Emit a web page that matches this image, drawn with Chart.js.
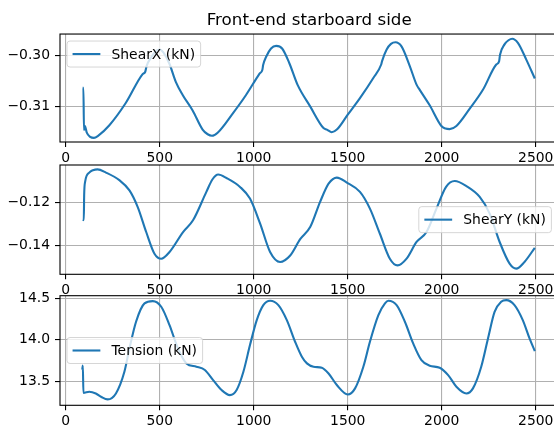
<!DOCTYPE html>
<html>
<head>
<meta charset="utf-8">
<script src="https://cdn.jsdelivr.net/npm/chart.js@4.4.0/dist/chart.umd.min.js"></script>
<style>
html, body { margin: 0; padding: 0; background: #fff; overflow: hidden; width: 554px; height: 430px; }
canvas { position: absolute; left: 0; }
</style>
</head>
<body>
<canvas id="c1" width="570" height="170" style="top:0px"></canvas>
<canvas id="c2" width="570" height="140" style="top:160px"></canvas>
<canvas id="c3" width="570" height="140" style="top:290px"></canvas>
<script>
// figure title and shared x axis
const title = 'Front-end starboard side';
const xTicks = [0, 500, 1000, 1500, 2000, 2500];
const xRange = [-30.5, 2620.5];

// ShearX
const shearXLabel = 'ShearX (kN)';
const shearXTime = [90, 94, 97, 102, 112, 130, 150, 172, 231, 320, 408, 423, 430, 455, 480, 500, 520, 551, 586, 622,
    675, 728, 755, 778, 808, 888, 959, 1030, 1046, 1050, 1066, 1092, 1119, 1151, 1190, 1234, 1300, 1371, 1389, 1415,
    1442, 1500, 1565, 1636, 1678, 1683, 1707, 1730, 1754, 1786, 1830, 1866, 1883, 1936, 1998, 2020, 2042, 2078, 2148,
    2219, 2290, 2305, 2310, 2334, 2355, 2375, 2405, 2449, 2495];
const shearXValues = [-0.3063, -0.3063, -0.3145, -0.3137, -0.3150, -0.3158, -0.3160, -0.3156, -0.3136, -0.3092,
    -0.3037, -0.3032, -0.3021, -0.3004, -0.2992, -0.2989, -0.2995, -0.3016, -0.3052, -0.3077,
    -0.3107, -0.3144, -0.3153, -0.3156, -0.3150, -0.3113, -0.3077, -0.3036, -0.3028, -0.3019,
    -0.3003, -0.2987, -0.2982, -0.2987, -0.3016, -0.3058, -0.3099, -0.3141, -0.3144, -0.3149,
    -0.3144, -0.3115, -0.3083, -0.3044, -0.3018, -0.3011, -0.2989, -0.2978, -0.2975, -0.2983,
    -0.3021, -0.3057, -0.3067, -0.3097, -0.3137, -0.3142, -0.3143, -0.3137, -0.3104,
    -0.3067, -0.3018, -0.3012, -0.2999, -0.2979, -0.2971, -0.2968, -0.2976, -0.3008, -0.3045];
const shearXTicks = [-0.31, -0.30];
const shearXRange = [-0.3168, -0.2959];

// ShearY
const shearYLabel = 'ShearY (kN)';
const shearYTime = [90, 96, 98, 103, 125, 145, 169, 214, 285, 339, 383, 428, 472, 508, 552, 624, 677, 748, 780, 811,
    855, 927, 980, 1034, 1087, 1140, 1194, 1247, 1301, 1353, 1398, 1442, 1495, 1565, 1618, 1671, 1724, 1765, 1813,
    1866, 1919, 1972, 2023, 2069, 2131, 2202, 2255, 2308, 2361, 2396, 2440, 2495];
const shearYValues = [-0.1280, -0.1282, -0.1168, -0.1106, -0.1063, -0.1052, -0.1048, -0.1063, -0.1098, -0.1145,
    -0.1222, -0.1337, -0.1437, -0.1460, -0.1429, -0.1337, -0.1283, -0.1152, -0.1095, -0.1072,
    -0.1088, -0.1129, -0.1183, -0.1298, -0.1429, -0.1475, -0.1445, -0.1370, -0.1313, -0.1198,
    -0.1114, -0.1086, -0.1109, -0.1152, -0.1229, -0.1345, -0.1460, -0.1491, -0.1460,
    -0.1383, -0.1337, -0.1229, -0.1129, -0.1102, -0.1125, -0.1175, -0.1252, -0.1383, -0.1483, -0.1506, -0.1475, -0.1410];
const shearYTicks = [-0.14, -0.12];
const shearYRange = [-0.1532, -0.1028];

// Tension
const tensionLabel = 'Tension (kN)';
const tensionTime = [88, 91, 94, 125, 160, 190, 223, 267, 312, 339, 374, 419, 463, 508, 552, 597, 642, 695, 740, 784,
    829, 873, 909, 945, 980, 1016, 1051, 1087, 1131, 1176, 1220, 1256, 1283, 1318, 1362, 1398, 1442, 1500, 1539,
    1583, 1618, 1663, 1698, 1716, 1760, 1804, 1848, 1892, 1936, 1989, 2034, 2078, 2131, 2166, 2210, 2246, 2281,
    2316, 2343, 2387, 2431, 2467, 2495];
const tensionValues = [13.64, 13.69, 13.36, 13.373, 13.353, 13.31, 13.281, 13.353, 13.614, 13.896, 14.217, 14.438,
    14.466, 14.398, 14.177, 13.896, 13.715, 13.675, 13.635, 13.514,
    13.394, 13.333, 13.394, 13.614, 13.936, 14.237, 14.418, 14.470, 14.418, 14.237, 13.976, 13.795, 13.715, 13.675,
    13.663, 13.594, 13.454, 13.341, 13.414,
    13.675, 13.976, 14.297, 14.438, 14.470, 14.418, 14.217, 13.956, 13.755, 13.687, 13.663, 13.574, 13.434, 13.353,
    13.414, 13.675, 14.016, 14.337,
    14.458, 14.478, 14.418, 14.237, 14.016, 13.863];
const tensionTicks = [13.5, 14.0, 14.5];
const tensionRange = [13.21, 14.531];

const BLUE = '#1f77b4';
const FS = 13.9;
Chart.defaults.font.family = 'DejaVu Sans';
Chart.defaults.font.size = FS;
Chart.defaults.color = '#000';

function fmt(v, d) {
    return v.toFixed(d).replace('-', '\u2212');
}

// matplotlib-like frame around the axes + legend box drawn over the line
const mplBox = {
    id: 'mplBox',
    afterDatasetsDraw(chart, args, o) {
        const a = chart.chartArea;
        const ctx = chart.ctx;
        ctx.save();
        ctx.strokeStyle = '#000';
        ctx.lineWidth = 1.1;
        ctx.strokeRect(a.left, a.top, a.right - a.left, a.bottom - a.top);

        const label = chart.data.datasets[0].label;
        ctx.font = FS + 'px "DejaVu Sans"';
        const tw = ctx.measureText(label).width;
        const pad = 0.4 * FS, hl = 2 * FS, hp = 0.8 * FS;
        const w = pad * 2 + hl + hp + tw, h = 26, gap = 7;
        let x, y;
        if (o.loc === 'upper left') { x = a.left + gap; y = a.top + gap; }
        else if (o.loc === 'center right') { x = a.right - gap - w; y = (a.top + a.bottom) / 2 - h / 2; }
        else { x = a.left + gap; y = (a.top + a.bottom) / 2 - h / 2; }

        const r = 3;
        ctx.beginPath();
        ctx.moveTo(x + r, y);
        ctx.arcTo(x + w, y, x + w, y + h, r);
        ctx.arcTo(x + w, y + h, x, y + h, r);
        ctx.arcTo(x, y + h, x, y, r);
        ctx.arcTo(x, y, x + w, y, r);
        ctx.closePath();
        ctx.fillStyle = 'rgba(255,255,255,0.8)';
        ctx.fill();
        ctx.strokeStyle = 'rgba(204,204,204,0.8)';
        ctx.lineWidth = 1;
        ctx.stroke();

        ctx.beginPath();
        ctx.moveTo(x + pad, y + h / 2);
        ctx.lineTo(x + pad + hl, y + h / 2);
        ctx.strokeStyle = BLUE;
        ctx.lineWidth = 2.1;
        ctx.stroke();

        ctx.fillStyle = '#000';
        ctx.textBaseline = 'middle';
        ctx.textAlign = 'left';
        ctx.fillText(label, x + pad + hl + hp, y + h / 2 + 1);
        ctx.restore();
    }
};

function makeChart(id, label, xs, ys, yTicks, yRange, decimals, opts) {
    const ctx = document.getElementById(id).getContext('2d');
    return new Chart(ctx, {
        type: 'line',
        data: {
            datasets: [{
                label: label,
                data: xs.map((x, i) => ({ x: x, y: ys[i] })),
                borderColor: BLUE,
                borderWidth: 2.1,
                pointRadius: 0,
                fill: false,
                cubicInterpolationMode: 'monotone'
            }]
        },
        options: {
            responsive: false,
            animation: false,
            layout: { padding: { top: opts.padTop, right: 11.6, bottom: 0, left: 0 } },
            plugins: {
                legend: { display: false },
                tooltip: { enabled: false },
                title: opts.title ? {
                    display: true,
                    text: opts.title,
                    fullSize: false,
                    color: '#000',
                    font: { size: 16.7, weight: 'normal' },
                    padding: { top: 11, bottom: 3 }
                } : { display: false },
                mplBox: { loc: opts.loc }
            },
            scales: {
                x: {
                    type: 'linear',
                    min: xRange[0],
                    max: xRange[1],
                    afterBuildTicks: s => { s.ticks = xTicks.map(v => ({ value: v })); },
                    afterFit: s => { s.height = opts.xHeight; },
                    border: { display: false },
                    grid: { color: '#b0b0b0', lineWidth: 1.1, tickColor: '#000', tickWidth: 1.1, tickLength: 5 },
                    ticks: { padding: 3, maxRotation: 0, autoSkip: false, callback: v => String(v) }
                },
                y: {
                    type: 'linear',
                    min: yRange[0],
                    max: yRange[1],
                    afterBuildTicks: s => { s.ticks = yTicks.map(v => ({ value: v })); },
                    afterFit: s => { s.width = 60; s.paddingTop = 0; s.paddingBottom = 0; },
                    border: { display: false },
                    grid: { color: '#b0b0b0', lineWidth: 1.1, tickColor: '#000', tickWidth: 1.1, tickLength: 5 },
                    ticks: { padding: 5, callback: v => fmt(v, decimals) }
                }
            }
        },
        plugins: [mplBox]
    });
}

makeChart('c1', shearXLabel, shearXTime, shearXValues, shearXTicks, shearXRange, 2,
    { title: title, padTop: 0, xHeight: 28, loc: 'upper left' });
makeChart('c2', shearYLabel, shearYTime, shearYValues, shearYTicks, shearYRange, 2,
    { padTop: 5, xHeight: 25.7, loc: 'center right' });
makeChart('c3', tensionLabel, tensionTime, tensionValues, tensionTicks, tensionRange, 1,
    { padTop: 5.7, xHeight: 24.7, loc: 'center left' });
</script>
</body>
</html>
